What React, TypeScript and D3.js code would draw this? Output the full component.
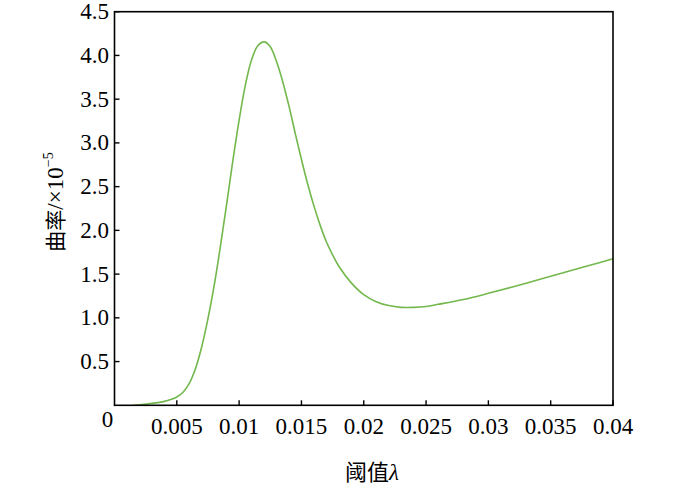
import React from "react";
import * as d3 from "d3";

const thresholds = [0.0015, 0.002, 0.003, 0.004, 0.0045, 0.005, 0.0055, 0.006, 0.0065, 0.007, 0.0075, 0.008, 0.0085, 0.009, 0.0095, 0.01, 0.0105, 0.011, 0.0115, 0.012, 0.0125, 0.013, 0.0135, 0.014, 0.0145, 0.015, 0.0155, 0.016, 0.0165, 0.017, 0.0175, 0.018, 0.019, 0.02, 0.021, 0.022, 0.023, 0.024, 0.025, 0.026, 0.028, 0.03, 0.032, 0.034, 0.036, 0.038, 0.04];
const curvature = [0.0, 0.006, 0.022, 0.045, 0.065, 0.095, 0.15, 0.25, 0.42, 0.67, 0.99, 1.37, 1.82, 2.30, 2.80, 3.26, 3.66, 3.95, 4.11, 4.155, 4.10, 3.93, 3.70, 3.42, 3.11, 2.81, 2.53, 2.28, 2.06, 1.87, 1.72, 1.59, 1.40, 1.265, 1.185, 1.14, 1.12, 1.12, 1.13, 1.155, 1.21, 1.28, 1.355, 1.435, 1.515, 1.595, 1.675];
const xTicks = [0.005, 0.01, 0.015, 0.02, 0.025, 0.03, 0.035, 0.04];
const xTickLabels = ["0.005", "0.01", "0.015", "0.02", "0.025", "0.03", "0.035", "0.04"];
const yTicks = [0.5, 1.0, 1.5, 2.0, 2.5, 3.0, 3.5, 4.0, 4.5];
const yTickLabels = ["0.5", "1.0", "1.5", "2.0", "2.5", "3.0", "3.5", "4.0", "4.5"];

const W = 700, H = 488;
const L = 114.5, R = 613, T = 11.7, B = 405.3;
const serif = "'Liberation Serif', 'Times New Roman', serif";
const cjk = "'Noto Sans CJK SC', sans-serif";

export default function App() {
  const x = d3.scaleLinear().domain([0, 0.04]).range([L, R]);
  const y = d3.scaleLinear().domain([0, 4.5]).range([B, T]);
  const pts = thresholds.map((t, i) => [t, curvature[i]] as [number, number]);
  const line = d3.line<[number, number]>()
    .x(d => x(d[0]))
    .y(d => y(d[1]))
    .curve(d3.curveCatmullRom.alpha(0.5));
  return (
    <svg width={W} height={H} style={{ position: "absolute", left: 0, top: 0, background: "#fff" }}>
      <path d={line(pts) || ""} fill="none" stroke="#72b84c" strokeWidth={1.6} />
      <rect x={L} y={T} width={R - L} height={B - T} fill="none" stroke="#000" strokeWidth={1.6} />
      {xTicks.map((t, i) => (
        <g key={"x" + i}>
          <line x1={x(t)} x2={x(t)} y1={B} y2={B - 5} stroke="#000" strokeWidth={1.4} />
          <text x={x(t)} y={434} textAnchor="middle" fontFamily={serif} fontSize={23} fill="#000">{xTickLabels[i]}</text>
        </g>
      ))}
      {yTicks.map((t, i) => (
        <g key={"y" + i}>
          <line x1={L} x2={L + 5} y1={y(t)} y2={y(t)} stroke="#000" strokeWidth={1.4} />
          <text x={109} y={y(t) + 7.5} textAnchor="end" fontFamily={serif} fontSize={23} fill="#000">{yTickLabels[i]}</text>
        </g>
      ))}
      <text x={107.5} y={427} textAnchor="middle" fontFamily={serif} fontSize={23} fill="#000">0</text>
      <text x={372} y={480} textAnchor="middle" fontSize={22} fill="#000">
        <tspan fontFamily={cjk}>阈值</tspan>
        <tspan fontFamily={serif} fontStyle="italic" fontSize={23}>λ</tspan>
      </text>
      <text transform="translate(63,202) rotate(-90)" textAnchor="middle" fontSize={21} fill="#000">
        <tspan fontFamily={cjk}>曲率</tspan>
        <tspan fontFamily={serif} fontSize={23}>/×10</tspan>
        <tspan fontFamily={serif} fontSize={14} dy={-10}>−5</tspan>
      </text>
    </svg>
  );
}
